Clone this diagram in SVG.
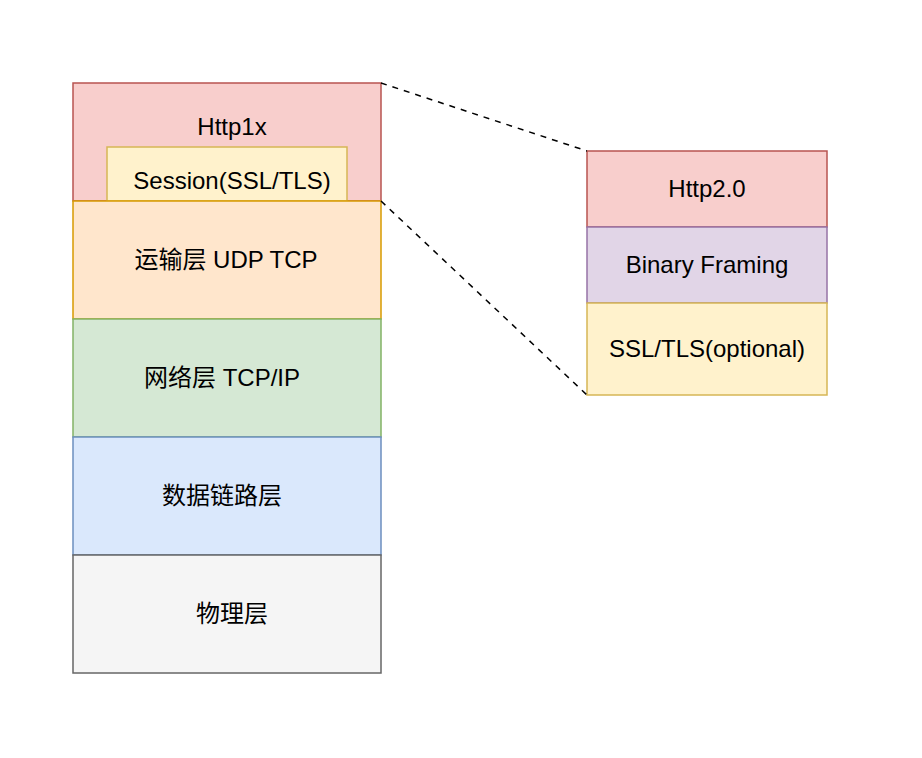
<svg xmlns="http://www.w3.org/2000/svg" width="922" height="758" viewBox="0 0 922 758">
<style>
rect{stroke-width:1.5}
text{font-family:"Liberation Sans","Noto Sans CJK SC",Arial,sans-serif;font-size:24px;fill:#000;text-anchor:middle}
.pink{fill:#f8cecc;stroke:#b85450}
.orange{fill:#ffe6cc;stroke:#d79b00}
.green{fill:#d5e8d4;stroke:#82b366}
.blue{fill:#dae8fc;stroke:#6c8ebf}
.gray{fill:#f5f5f5;stroke:#666666}
.yellow{fill:#fff2cc;stroke:#d6b656}
.purple{fill:#e1d5e7;stroke:#9673a6}
.dash{stroke:#000;stroke-width:1.5;stroke-dasharray:6 6;fill:none}
</style>
<rect width="922" height="758" fill="#ffffff" style="stroke:none"/>
<g id="http1x"><rect class="pink" x="73" y="83" width="308" height="118"/><text x="232" y="135">Http1x</text></g>
<g id="session"><rect class="yellow" x="107" y="147" width="240" height="54"/><text x="232" y="189">Session(SSL/TLS)</text></g>
<g id="transport"><rect class="orange" x="73" y="201" width="308" height="118"/><text x="226" y="268">运输层 UDP TCP</text></g>
<g id="network"><rect class="green" x="73" y="319" width="308" height="118"/><text x="222" y="386">网络层 TCP/IP</text></g>
<g id="datalink"><rect class="blue" x="73" y="437" width="308" height="118"/><text x="222" y="504">数据链路层</text></g>
<g id="physical"><rect class="gray" x="73" y="555" width="308" height="118"/><text x="232" y="622">物理层</text></g>
<g id="http2"><rect class="pink" x="587" y="151" width="240" height="76"/><text x="707" y="197">Http2.0</text></g>
<g id="binary"><rect class="purple" x="587" y="227" width="240" height="76"/><text x="707" y="273">Binary Framing</text></g>
<g id="ssl"><rect class="yellow" x="587" y="303" width="240" height="92"/><text x="707" y="357">SSL/TLS(optional)</text></g>
<g id="connectors">
<line class="dash" x1="381" y1="83" x2="587" y2="151"/>
<line class="dash" x1="381" y1="201" x2="587" y2="395"/>
</g>
</svg>
